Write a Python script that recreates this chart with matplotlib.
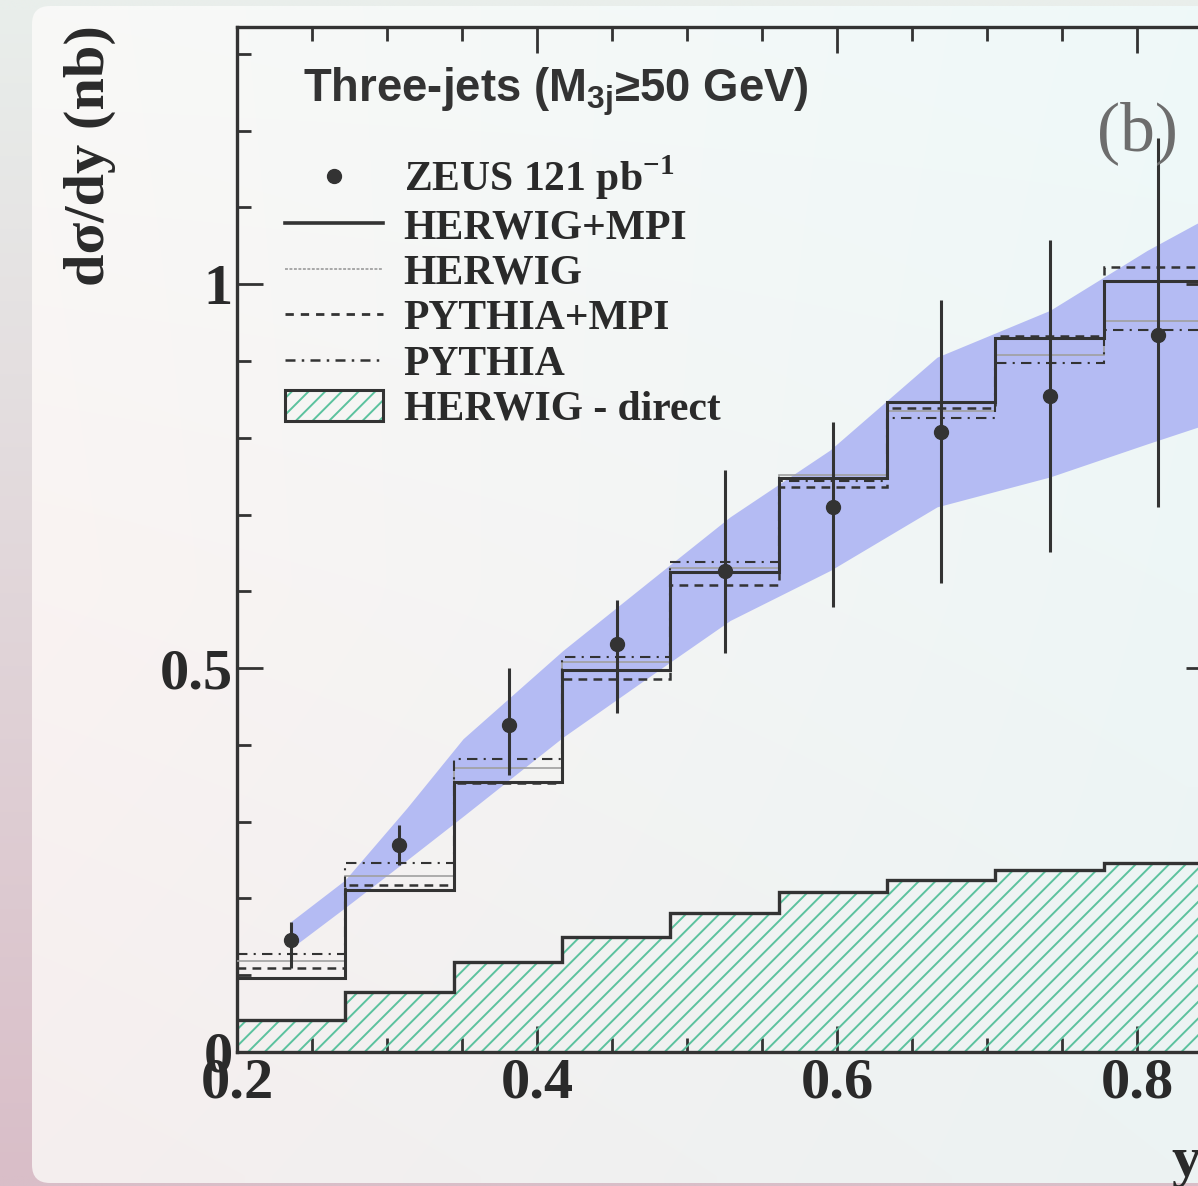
import numpy as np
import matplotlib
matplotlib.use("Agg")
import matplotlib.pyplot as plt
from matplotlib.patches import FancyBboxPatch, Patch
from matplotlib.lines import Line2D

# bin edges of the y distribution
edges = [0.2, 0.2722, 0.3444, 0.4167, 0.4889, 0.5611, 0.6333, 0.7056, 0.7778, 0.85]

# ZEUS data points (bin centres)
zeus_x = [0.236, 0.308, 0.381, 0.453, 0.525, 0.597, 0.669, 0.742, 0.814]
zeus_y = [0.146, 0.270, 0.426, 0.531, 0.626, 0.710, 0.807, 0.855, 0.934]
zeus_hi = [0.169, 0.296, 0.500, 0.589, 0.758, 0.820, 0.979, 1.057, 1.191]
zeus_lo = [0.109, 0.243, 0.361, 0.441, 0.520, 0.579, 0.611, 0.651, 0.710]

# MC predictions
herwig_mpi = [0.096, 0.211, 0.352, 0.497, 0.625, 0.747, 0.847, 0.930, 1.004]
herwig = [0.118, 0.229, 0.370, 0.508, 0.631, 0.752, 0.835, 0.908, 0.952]
pythia_mpi = [0.110, 0.218, 0.350, 0.486, 0.608, 0.736, 0.839, 0.933, 1.022]
pythia = [0.128, 0.246, 0.381, 0.514, 0.638, 0.744, 0.826, 0.897, 0.940]
herwig_direct = [0.042, 0.078, 0.117, 0.150, 0.181, 0.208, 0.224, 0.237, 0.246]

# theory band
band_x = [0.236, 0.272, 0.3133, 0.3507, 0.4173, 0.4889, 0.5287, 0.5953, 0.6667, 0.742, 0.8067, 0.85]
band_hi = [0.170, 0.224, 0.318, 0.408, 0.523, 0.635, 0.697, 0.784, 0.905, 0.966, 1.044, 1.09]
band_lo = [0.135, 0.188, 0.250, 0.307, 0.410, 0.508, 0.562, 0.627, 0.710, 0.749, 0.792, 0.82]

W, H = 1198, 1186
ink = "#2a2a2a"
line_col = "#333333"
hatch_col = "#5cc29e"

plt.rcParams["font.family"] = ["Liberation Serif", "DejaVu Serif"]
plt.rcParams["font.weight"] = "bold"
plt.rcParams["mathtext.fontset"] = "custom"
plt.rcParams["mathtext.rm"] = "Liberation Serif:bold"
plt.rcParams["mathtext.bf"] = "Liberation Serif:bold"
plt.rcParams["mathtext.sf"] = "Liberation Sans:bold"
plt.rcParams["hatch.linewidth"] = 1.4

fig = plt.figure(figsize=(W / 100, H / 100), dpi=100)

# --- background: blurred page + rounded card
bg = fig.add_axes([0, 0, 1, 1], zorder=-10)
bg.set_xlim(0, W)
bg.set_ylim(H, 0)
bg.axis("off")
t = np.linspace(0, 1, 60)[:, None]
top = np.array([233, 238, 235]) / 255
bot = np.array([217, 190, 200]) / 255
outer = (top * (1 - t) + bot * t)[:, None, :] * np.ones((1, 60, 1))
bg.imshow(outer, extent=[0, W, H, 0], aspect="auto", interpolation="bilinear")

card = FancyBboxPatch((32, 6), W + 60, 1177, boxstyle="round,pad=0,rounding_size=18",
                      facecolor="none", edgecolor="none", transform=bg.transData)
bg.add_patch(card)
gy, gx = np.mgrid[0:1:60j, 0:1:60j]
tl = np.array([249, 249, 247]) / 255
tr = np.array([239, 249, 249]) / 255
bl = np.array([245, 238, 238]) / 255
br = np.array([236, 243, 243]) / 255
ml = np.array([250, 243, 242]) / 255
left = np.where((gy < 0.5)[..., None], tl * (1 - 2 * gy[..., None]) + ml * 2 * gy[..., None],
                ml * (2 - 2 * gy[..., None]) + bl * (2 * gy[..., None] - 1))
right = tr * (1 - gy[..., None]) + br * gy[..., None]
card_img = left * (1 - gx[..., None]) + right * gx[..., None]
im = bg.imshow(card_img, extent=[0, W, H, 0], aspect="auto", interpolation="bilinear")
im.set_clip_path(card)

# --- main axes (right edge lies just outside the picture)
ax = fig.add_axes([237 / W, 134 / H, 975 / W, 1025 / H])
ax.set_facecolor("none")
ax.set_xlim(0.2, 0.85)
ax.set_ylim(0, 1.335)

ax.fill_between(band_x, band_lo, band_hi, color="#b4bbf3", lw=0, zorder=1)

ax.stairs(herwig_direct, edges, baseline=0, fill=True, facecolor="none",
          edgecolor=hatch_col, hatch="//", lw=0, zorder=2)
ax.stairs(herwig_direct, edges, baseline=None, color=line_col, lw=2.4, zorder=3)

ax.stairs(herwig, edges, baseline=None, color="#a0a0a0", lw=1.2, zorder=3)
ax.stairs(pythia, edges, baseline=None, color=line_col, lw=1.5,
          linestyle=(0, (5, 3, 1, 3)), zorder=3)
ax.stairs(pythia_mpi, edges, baseline=None, color=line_col, lw=1.8,
          linestyle=(0, (3.5, 2.5)), zorder=3)
ax.stairs(herwig_mpi, edges, baseline=None, color=line_col, lw=2.2, zorder=4)

yerr = [np.array(zeus_y) - np.array(zeus_lo), np.array(zeus_hi) - np.array(zeus_y)]
ax.errorbar(zeus_x, zeus_y, yerr=yerr, fmt="o", color=line_col, ms=10,
            elinewidth=2.2, capsize=0, zorder=5)

# axes styling
for s in ax.spines.values():
    s.set_color(line_col)
    s.set_linewidth(2.4)
ax.set_xticks([0.2, 0.4, 0.6, 0.8])
ax.set_xticklabels(["0.2", "0.4", "0.6", "0.8"])
ax.set_xticks(np.arange(0.25, 0.85, 0.05), minor=True)
ax.set_yticks([0, 0.5, 1])
ax.set_yticklabels(["0", "0.5", "1"])
ax.set_yticks(np.arange(0.1, 1.34, 0.1), minor=True)
ax.tick_params(which="both", direction="in", top=True, right=True, color=line_col,
               labelcolor=ink, labelsize=42)
ax.tick_params(which="major", length=19, width=2.0)
ax.tick_params(which="minor", length=10, width=2.0)
ax.tick_params(axis="x", pad=4)
ax.tick_params(axis="y", pad=3)

# legend
handles = [
    Line2D([], [], marker="o", ls="none", color=line_col, ms=10),
    Line2D([], [], color=line_col, lw=2.6),
    Line2D([], [], color="#a8a8a8", lw=1.4, ls=(0, (1.5, 0.8))),
    Line2D([], [], color=line_col, lw=2.0, ls=(0, (3, 2.5))),
    Line2D([], [], color=line_col, lw=1.8, ls=(0, (4, 2.5, 1, 2.5))),
    (Patch(facecolor="none", edgecolor=hatch_col, hatch="//", lw=0),
     Patch(facecolor="none", edgecolor=line_col, lw=2.2)),
]
labels = ["ZEUS 121 pb$^{-1}$", "HERWIG+MPI", "HERWIG", "PYTHIA+MPI", "PYTHIA",
          "HERWIG - direct"]
leg = fig.legend(handles, labels, loc="upper left", bbox_to_anchor=(285 / W, 1 - 153 / H),
                 frameon=False, fontsize=30, handlelength=2.35, handleheight=0.75,
                 handletextpad=0.5, labelspacing=0.16, borderpad=0, borderaxespad=0)
for txt in leg.get_texts():
    txt.set_color(ink)

fig.text(303 / W, 1 - 102 / H, r"Three-jets (M$_{\mathsf{3j}}$≥50 GeV)",
         family=["Liberation Sans", "DejaVu Sans"], weight="bold", fontsize=32.8,
         color="#333333", va="baseline", ha="left")
fig.text(1097 / W, 1 - 150 / H, "(b)", fontsize=50, weight="normal", color="#6d6d6d",
         va="baseline", ha="left")
fig.text(90 / W, 1 - 156 / H, "dσ/dy (nb)", rotation=90, fontsize=42, color=ink,
         ha="center", va="center")
fig.text(1186 / W, 1 - 1176 / H, "y", fontsize=42, color=ink, ha="center", va="baseline")

fig.savefig("out.png", dpi=100)
